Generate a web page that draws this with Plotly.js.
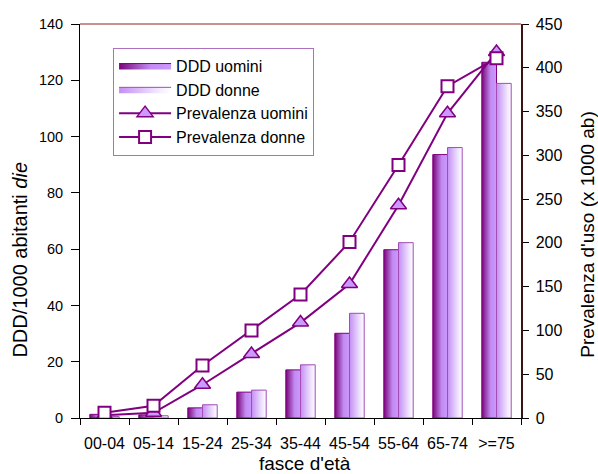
<!DOCTYPE html>
<html>
<head>
<meta charset="utf-8">
<script src="https://cdn.plot.ly/plotly-3.0.1.min.js"></script>
<style>
  html, body { margin: 0; padding: 0; background: #ffffff; }
  #chart { width: 598px; height: 474px; }
</style>
</head>
<body>
<div id="chart"></div>
<script>
// Age groups
const categories = ['00-04', '05-14', '15-24', '25-34', '35-44', '45-54', '55-64', '65-74', '>=75'];

// DDD per 1000 inhabitants per day (left axis)
const dddUomini = [1.3, 1.1, 3.6, 9.2, 17.1, 30.1, 59.8, 93.6, 126.4];
const dddDonne  = [0.5, 0.8, 4.7, 9.9, 18.9, 37.2, 62.3, 96.1, 118.9];

// Prevalence of use per 1000 inhabitants (right axis)
const prevUomini = [3, 6, 38, 73, 109, 153, 243, 348, 418];
const prevDonne  = [6, 14, 60, 100, 141, 201, 289, 379, 411];

const FONT = 'Arial, "Liberation Sans", sans-serif';
const PURPLE = '#800080';
const BAR_W = 0.3;               // width of one bar, in category units
const idx = categories.map((_, i) => i);

const gradUomini = [[0, '#7a047a'], [0.6, '#c28bf1'], [1, '#cc99ff']];
const gradDonne  = [[0, '#c48ef3'], [0.7, '#efe3ff'], [1, '#ffffff']];

// Each bar is a filled rectangle so it can carry its own horizontal gradient.
function barTraces(vals, side, name, grad, edge, group) {
  return vals.map((v, i) => {
    const x0 = side < 0 ? i - BAR_W : i;
    const x1 = x0 + BAR_W;
    return {
      type: 'scatter', mode: 'lines',
      x: [x0, x0, x1, x1, x0], y: [0, v, v, 0, 0],
      fill: 'toself',
      fillcolor: grad[1][1],
      fillgradient: { type: 'horizontal', start: x0, stop: x1, colorscale: grad },
      line: { color: edge, width: 1 },
      name: name, legendgroup: group, showlegend: i === 0,
      hoverinfo: 'skip', xaxis: 'x', yaxis: 'y'
    };
  });
}

const traces = [
  ...barTraces(dddUomini, -1, 'DDD uomini', gradUomini, PURPLE, 'du'),
  ...barTraces(dddDonne, 1, 'DDD donne', gradDonne, '#a24cb4', 'dd'),
  {
    type: 'scatter', mode: 'lines+markers', name: 'Prevalenza uomini', legendgroup: 'pu',
    x: idx, y: prevUomini, xaxis: 'x', yaxis: 'y2',
    line: { color: PURPLE, width: 2 },
    marker: { symbol: 'triangle-up', size: 14, color: '#cc99ff', line: { color: PURPLE, width: 1.5 } }
  },
  {
    type: 'scatter', mode: 'lines+markers', name: 'Prevalenza donne', legendgroup: 'pd',
    x: idx, y: prevDonne, xaxis: 'x', yaxis: 'y2',
    line: { color: PURPLE, width: 2 },
    marker: { symbol: 'square', size: 12, color: '#ffffff', line: { color: PURPLE, width: 2 } }
  }
];

const layout = {
  width: 598, height: 474,
  margin: { l: 80, r: 77, t: 24, b: 56 },
  paper_bgcolor: '#ffffff', plot_bgcolor: '#ffffff',
  font: { family: FONT, color: '#000000', size: 15 },
  showlegend: true,
  legend: {
    x: 0.075, y: 0.94, xanchor: 'left', yanchor: 'top',
    bgcolor: '#ffffff', bordercolor: '#b070c0', borderwidth: 1,
    font: { family: FONT, size: 16, color: '#000000' },
    itemwidth: 52, traceorder: 'grouped', tracegroupgap: 0
  },
  xaxis: {
    type: 'linear', range: [-0.5, 8.5],
    tickmode: 'array', tickvals: idx, ticktext: categories,
    ticks: '', ticklabelstandoff: 11,
    minor: {
      tickmode: 'array', tickvals: [-0.5, 0.5, 1.5, 2.5, 3.5, 4.5, 5.5, 6.5, 7.5, 8.5],
      ticks: 'outside', ticklen: 6, tickwidth: 1, tickcolor: '#000000', showgrid: false
    },
    showline: true, linecolor: '#000000', linewidth: 1,
    showgrid: false, zeroline: false, fixedrange: true,
    tickfont: { family: FONT, size: 16 }
  },
  yaxis: {
    range: [0, 140], dtick: 20, tick0: 0,
    ticks: 'outside', ticklen: 8, tickcolor: '#000000', ticklabelstandoff: 5,
    showline: true, linecolor: '#000000', linewidth: 1,
    showgrid: false, zeroline: false,
    tickfont: { family: FONT, size: 14.5 }
  },
  yaxis2: {
    overlaying: 'y', side: 'right',
    range: [0, 450], dtick: 50, tick0: 0,
    ticks: 'outside', ticklen: 6, tickcolor: '#000000', ticklabelstandoff: 4,
    showline: true, linecolor: '#3c1212', linewidth: 1.5,
    showgrid: false, zeroline: false,
    tickfont: { family: FONT, size: 16 }
  },
  shapes: [
    { type: 'line', xref: 'paper', yref: 'paper', x0: 0, x1: 1, y0: 1, y1: 1,
      line: { color: '#b86a6a', width: 1.5 } }
  ],
  annotations: [
    { text: 'DDD/1000 abitanti <i>die</i>', xref: 'paper', yref: 'paper',
      x: 0, xshift: -60, y: 0.402, textangle: -90, showarrow: false,
      xanchor: 'center', yanchor: 'middle', font: { family: FONT, size: 20 } },
    { text: "Prevalenza d'uso (x 1000 ab)", xref: 'paper', yref: 'paper',
      x: 1, xshift: 67, y: 0.465, textangle: -90, showarrow: false,
      xanchor: 'center', yanchor: 'middle', font: { family: FONT, size: 19 } },
    { text: "fasce d'età", xref: 'paper', yref: 'paper',
      x: 0.51, y: 0, yshift: -45, showarrow: false,
      xanchor: 'center', yanchor: 'middle', font: { family: FONT, size: 19 } }
  ]
};

Plotly.newPlot('chart', traces, layout, { staticPlot: true, displayModeBar: false });
</script>
</body>
</html>
